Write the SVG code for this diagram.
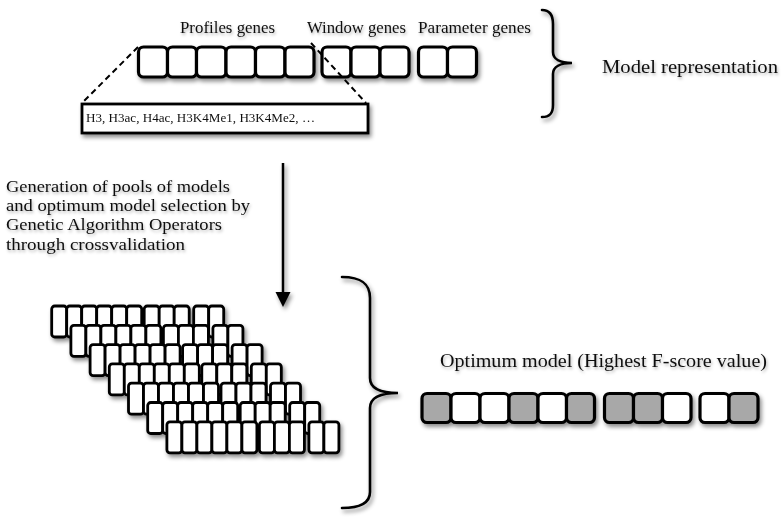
<svg xmlns="http://www.w3.org/2000/svg" xmlns:xlink="http://www.w3.org/1999/xlink" width="783" height="519" viewBox="0 0 783 519">
<style>
.t{font-family:"Liberation Serif","Times New Roman",serif;fill:#111;}
.gene{fill:#fff;stroke:#000;stroke-width:3.2;}
.on{fill:#a8a8a8;stroke:#000;stroke-width:3.2;}
.sg{fill:#fff;stroke:#000;stroke-width:2.8;}
.brace{fill:none;stroke:#000;stroke-width:2.6;stroke-linecap:round;}
.dash{fill:none;stroke:#000;stroke-width:2;stroke-dasharray:6 4;}
</style>
<defs>
<filter id="sh" x="-10%" y="-20%" width="130%" height="160%">
<feDropShadow dx="2" dy="3" stdDeviation="2" flood-color="#000" flood-opacity="0.45"/>
</filter>
<filter id="tsh" x="-5%" y="-30%" width="110%" height="180%">
<feDropShadow dx="1" dy="2" stdDeviation="1.5" flood-color="#000" flood-opacity="0.3"/>
</filter>
<g id="row">
<rect class="sg" x="0" y="0" width="15" height="31" rx="3"/>
<rect class="sg" x="15" y="0" width="15" height="31" rx="3"/>
<rect class="sg" x="30" y="0" width="15" height="31" rx="3"/>
<rect class="sg" x="45" y="0" width="15" height="31" rx="3"/>
<rect class="sg" x="60" y="0" width="15" height="31" rx="3"/>
<rect class="sg" x="75" y="0" width="15" height="31" rx="3"/>
<rect class="sg" x="92.5" y="0" width="15" height="31" rx="3"/>
<rect class="sg" x="107.5" y="0" width="15" height="31" rx="3"/>
<rect class="sg" x="122.5" y="0" width="15" height="31" rx="3"/>
<rect class="sg" x="142" y="0" width="15" height="31" rx="3"/>
<rect class="sg" x="157" y="0" width="15" height="31" rx="3"/>
</g>
</defs>
<rect width="783" height="519" fill="#fff"/>

<g id="labels" filter="url(#tsh)">
<text class="t" x="180" y="33" font-size="17" textLength="95" lengthAdjust="spacingAndGlyphs">Profiles genes</text>
<text class="t" x="307" y="33" font-size="17" textLength="99" lengthAdjust="spacingAndGlyphs">Window genes</text>
<text class="t" x="418" y="33" font-size="17" textLength="113" lengthAdjust="spacingAndGlyphs">Parameter genes</text>
<text class="t" x="602" y="73" font-size="19" textLength="176" lengthAdjust="spacingAndGlyphs">Model representation</text>
<text class="t" x="6" y="192" font-size="17" textLength="224" lengthAdjust="spacingAndGlyphs">Generation of pools of models</text>
<text class="t" x="6" y="211" font-size="17" textLength="244" lengthAdjust="spacingAndGlyphs">and optimum model selection by</text>
<text class="t" x="6" y="230" font-size="17" textLength="216" lengthAdjust="spacingAndGlyphs">Genetic Algorithm Operators</text>
<text class="t" x="6" y="250" font-size="17" textLength="179" lengthAdjust="spacingAndGlyphs">through crossvalidation</text>
<text class="t" x="440" y="367" font-size="19" textLength="327" lengthAdjust="spacingAndGlyphs">Optimum model (Highest F-score value)</text>
</g>

<g id="model-representation" filter="url(#sh)">
<rect class="gene" x="138.5" y="47" width="29" height="30" rx="5"/>
<rect class="gene" x="167.5" y="47" width="29" height="30" rx="5"/>
<rect class="gene" x="196.5" y="47" width="29.5" height="30" rx="5"/>
<rect class="gene" x="226" y="47" width="29.5" height="30" rx="5"/>
<rect class="gene" x="255.5" y="47" width="29.5" height="30" rx="5"/>
<rect class="gene" x="285" y="47" width="29" height="30" rx="5"/>
<rect class="gene" x="322" y="47" width="29" height="30" rx="5"/>
<rect class="gene" x="351" y="47" width="29" height="30" rx="5"/>
<rect class="gene" x="380" y="47" width="29" height="30" rx="5"/>
<rect class="gene" x="418.5" y="47" width="29" height="30" rx="5"/>
<rect class="gene" x="447.5" y="47" width="29" height="30" rx="5"/>
</g>

<g id="profiles-list" filter="url(#sh)">
<rect x="82" y="104" width="286" height="29" fill="#fff" stroke="#000" stroke-width="2.8"/>
<text class="t" x="86" y="122" font-size="12" textLength="229" lengthAdjust="spacingAndGlyphs">H3, H3ac, H4ac, H3K4Me1, H3K4Me2, …</text>
</g>

<g id="pool" filter="url(#sh)">
<use xlink:href="#row" x="51.7" y="306"/>
<use xlink:href="#row" x="70.9" y="325.3"/>
<use xlink:href="#row" x="90.1" y="344.6"/>
<use xlink:href="#row" x="109.3" y="363.9"/>
<use xlink:href="#row" x="128.5" y="383.2"/>
<use xlink:href="#row" x="147.7" y="402.5"/>
<use xlink:href="#row" x="166.9" y="421.8"/>
</g>

<g id="optimum-model" filter="url(#sh)">
<rect class="on" x="422" y="393.5" width="29" height="29" rx="5"/>
<rect class="gene" x="451" y="393.5" width="29" height="29" rx="5"/>
<rect class="gene" x="480" y="393.5" width="29" height="29" rx="5"/>
<rect class="on" x="509" y="393.5" width="29" height="29" rx="5"/>
<rect class="gene" x="538" y="393.5" width="28.5" height="29" rx="5"/>
<rect class="on" x="566.5" y="393.5" width="28" height="29" rx="5"/>
<rect class="on" x="604.5" y="393.5" width="29" height="29" rx="5"/>
<rect class="on" x="633.5" y="393.5" width="29" height="29" rx="5"/>
<rect class="gene" x="662.5" y="393.5" width="28.5" height="29" rx="5"/>
<rect class="gene" x="700" y="393.5" width="29" height="29" rx="5"/>
<rect class="on" x="729" y="393.5" width="29" height="29" rx="5"/>
</g>

<g id="connectors">
<path class="dash" d="M138,47 L82,103"/>
<path class="dash" d="M311,43 L366,103"/>
<g filter="url(#sh)">
<path class="brace" d="M542,10 C550,10 553,15 553,24 L553,52 C553,59 560,63 572,63 C560,63 553,67 553,74 L553,105 C553,113 550,117 542,117"/>
<path class="brace" d="M342,277 C362,277 370,284 370,298 L370,378 C370,387 378,393 398,393 C378,393 370,399 370,408 L370,492 C370,503 360,508 342,508"/>
<line x1="283" y1="163" x2="283" y2="294" stroke="#000" stroke-width="2.5"/>
<polygon points="275.5,292 290.5,292 283,307" fill="#000"/>
</g>
</g>
</svg>
